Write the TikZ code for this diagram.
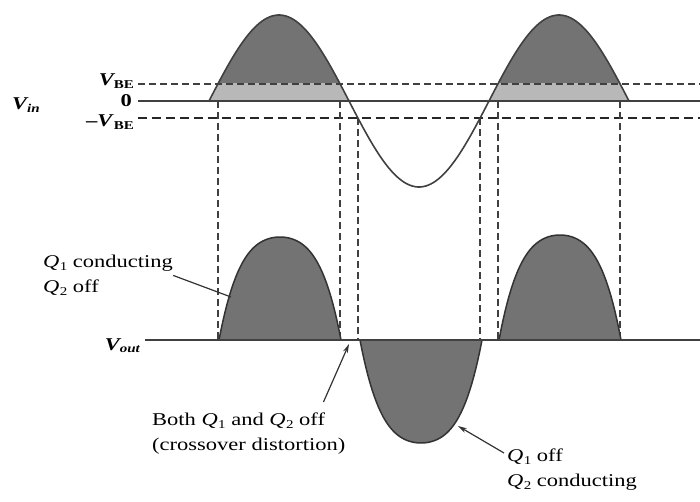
\documentclass[tikz,border=0pt]{standalone}
\usepackage{fontspec}
\setmainfont{Liberation Serif}[FakeStretch=1.25]
\usetikzlibrary{arrows.meta}
\newcommand\sbs[1]{\raisebox{-0.3ex}{\fontsize{12}{12}\selectfont #1}}
\newcommand\Qn[1]{\textit{Q}\kern0.02em\sbs{#1}}
\begin{document}
\begin{tikzpicture}[x=1pt,y=-1pt,
  wave/.style={line width=1.6pt, draw=black!75},
  axisline/.style={line width=1.5pt, draw=black!75},
  guide/.style={line width=1.3pt, draw=black!75, dash pattern=on 7pt off 4pt},
  heavyguide/.style={line width=2.2pt, draw=black!85, dash pattern=on 9pt off 5pt},
  dark/.style={fill=black!55},
  light/.style={fill=black!28},
  hump/.style={fill=black!55, draw=black!80, line width=1.5pt},
  lbl/.style={font=\fontsize{18}{25}\selectfont, inner sep=0pt, align=left},
  leader/.style={line width=1.2pt, draw=black!80},
  pointer/.style={leader, -{Stealth[length=9pt,width=5pt]}}]
\useasboundingbox (0,0) rectangle (700,502);

% ---------- input waveform ----------
\begin{scope}
  \clip (200,0) rectangle (640,84);
  \fill[dark] plot[domain=209:349,samples=60] (\x,{101-86*sin((\x-209)*1.285714)}) -- cycle;
  \fill[dark] plot[domain=489:629,samples=60] (\x,{101-86*sin((\x-209)*1.285714)}) -- cycle;
\end{scope}
\begin{scope}
  \clip (200,84) rectangle (640,101);
  \fill[light] plot[domain=209:349,samples=60] (\x,{101-86*sin((\x-209)*1.285714)}) -- cycle;
  \fill[light] plot[domain=489:629,samples=60] (\x,{101-86*sin((\x-209)*1.285714)}) -- cycle;
\end{scope}

\draw[guide] (138,84) -- (700,84);
\draw[axisline] (138,101) -- (700,101);
\draw[heavyguide] (138,118) -- (700,118);
\draw[wave] plot[domain=209:629,samples=160] (\x,{101-86*sin((\x-209)*1.285714)});

% ---------- projection lines ----------
\draw[guide] (218,101) -- (218,340);
\draw[guide] (340,101) -- (340,340);
\draw[guide] (358,118) -- (358,340);
\draw[guide] (480,118) -- (480,340);
\draw[guide] (498,101) -- (498,340);
\draw[guide] (620,101) -- (620,340);

% ---------- output waveform ----------
\filldraw[hump] plot[domain=-1:1,samples=60] ({280+61*\x},{340-103*(1-0.45*\x*\x-0.55*\x*\x*\x*\x)}) -- cycle;
\filldraw[hump] plot[domain=-1:1,samples=60] ({421+61*\x},{340+103*(1-0.45*\x*\x-0.55*\x*\x*\x*\x)}) -- cycle;
\filldraw[hump] plot[domain=-1:1,samples=60] ({560+61*\x},{340-105*(1-0.45*\x*\x-0.55*\x*\x*\x*\x)}) -- cycle;
\draw[axisline] (145,340) -- (700,340);

% ---------- labels ----------
\node[lbl, anchor=base west] (vin) at (12,110) {\bfseries\itshape V\sbs{in}};
\node[lbl, anchor=base east] (vbe) at (134,86) {\bfseries\itshape V\sbs{\upshape BE}};
\node[lbl, anchor=base east] (zero) at (132,107) {\bfseries 0};
\node[lbl, anchor=base east] (mvbe) at (134,127) {\bfseries –\textit{V}\sbs{BE}};
\node[lbl, anchor=base east] (vout) at (140,350) {\bfseries\itshape V\sbs{out}};

\node[lbl, anchor=north west] (q1c) at (43,255) {\Qn{1} conducting\\\Qn{2} off};
\node[lbl, anchor=north west] (both) at (152,413) {Both \Qn{1} and \Qn{2} off\\(crossover distortion)};
\node[lbl, anchor=north west] (q1off) at (507,449) {\Qn{1} off\\\Qn{2} conducting};

\coordinate (h1) at (231,297);
\coordinate (gap) at (349,344);
\coordinate (h2) at (458,426);
\draw[leader] (q1c.east) -- (h1);
\draw[pointer] ([xshift=-22pt,yshift=11pt]both.north east) -- (gap);
\draw[pointer] ([xshift=-3pt,yshift=-4pt]q1off.north west) -- (h2);
\end{tikzpicture}
\end{document}
